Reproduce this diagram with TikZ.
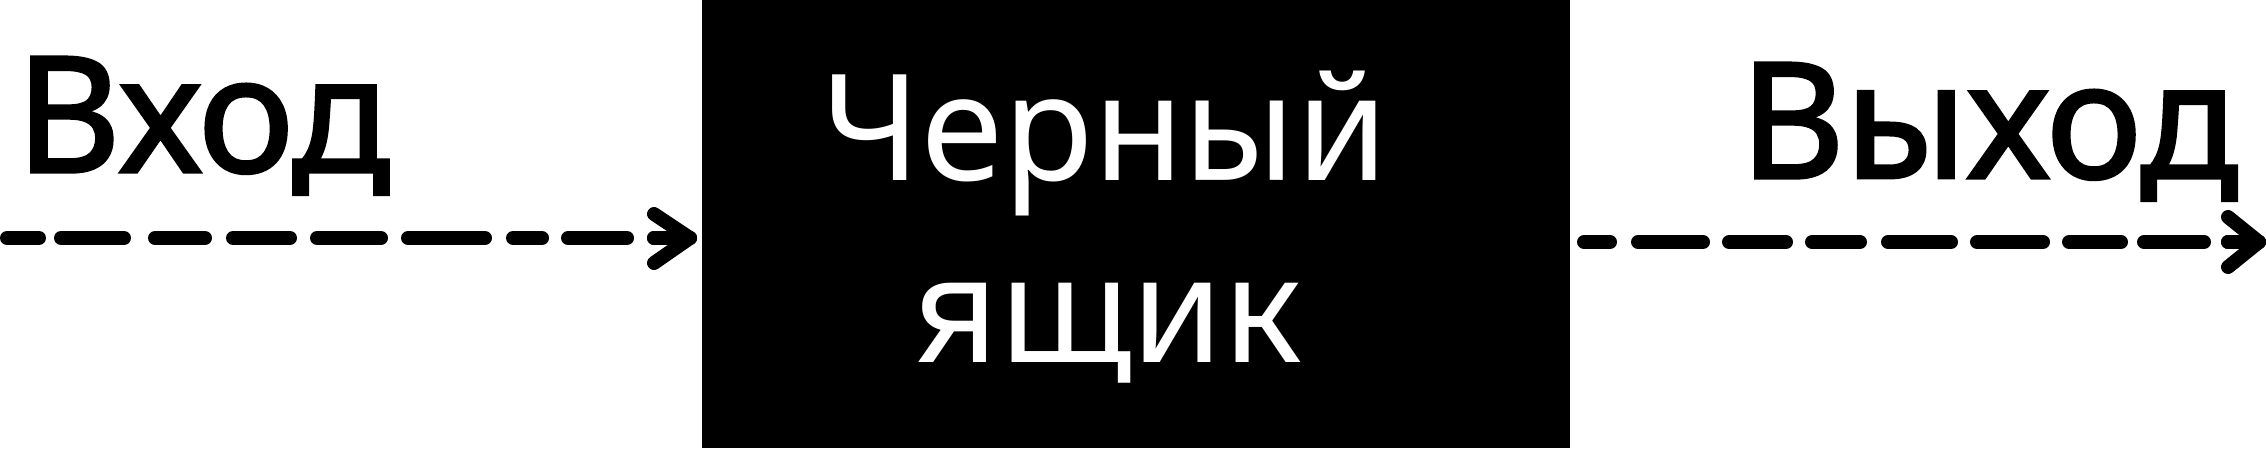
\documentclass[tikz,border=0pt]{standalone}
\usepackage{fontspec}
\setmainfont{Noto Sans}
\newfontfamily\lblfont{Noto Sans}[FakeBold=2]
\usetikzlibrary{calc}
\begin{document}
\begin{tikzpicture}[x=1pt,y=-1pt,
  lbl/.style={inner sep=0pt, anchor=base, font=\lblfont\fontsize{161}{180}\selectfont},
  boxlbl/.style={inner sep=0pt, anchor=base, text=white, font=\fontsize{148}{182}\selectfont},
  flowline/.style={line width=14pt, line cap=round, line join=round},
  headline/.style={line width=14pt, line cap=round, line join=round, solid}]
\useasboundingbox (0,0) rectangle (2266,448);
% black box
\node (box) [fill=black, inner sep=0pt, minimum width=868pt, minimum height=448pt] at (1136,224) {};
\node (t1) [boxlbl] at (1105,180) {Черный};
\node (t2) [boxlbl] at (1108,362) {ящик};
% labels
\node (inlbl) [lbl] at (203,172) {Вход};
\node (outlbl) [lbl] at (1989,178) {Выход};
% input arrow
\coordinate (inS) at (7,238);
\coordinate (inT) at (690,238);
\draw[flowline, dash pattern=on 32pt off 22pt on 63pt off 31pt on 50pt off 28pt on 57pt off 27pt on 64pt off 27pt on 77pt off 28pt on 29pt off 26pt on 59pt off 27pt on 60pt off 20pt] (inS) -- (inT);
\draw[headline] ($(inT)+(-36,-24)$) -- (inT) -- ($(inT)+(-36,25)$);
\draw[headline] ($(inT)+(-36,0)$) -- (inT);
% output arrow
\coordinate (outS) at (1584,242);
\coordinate (outT) at (2259,242);
\draw[flowline, dash pattern=on 26pt off 28pt on 65pt off 26pt on 57pt off 26pt on 48pt off 28pt on 63pt off 26pt on 66pt off 26pt on 52pt off 23pt on 60pt off 24pt on 60pt off 20pt] (outS) -- (outT);
\draw[headline] ($(outT)+(-31,-25)$) -- (outT) -- ($(outT)+(-31,25)$);
\draw[headline] ($(outT)+(-31,0)$) -- (outT);
\end{tikzpicture}
\end{document}
